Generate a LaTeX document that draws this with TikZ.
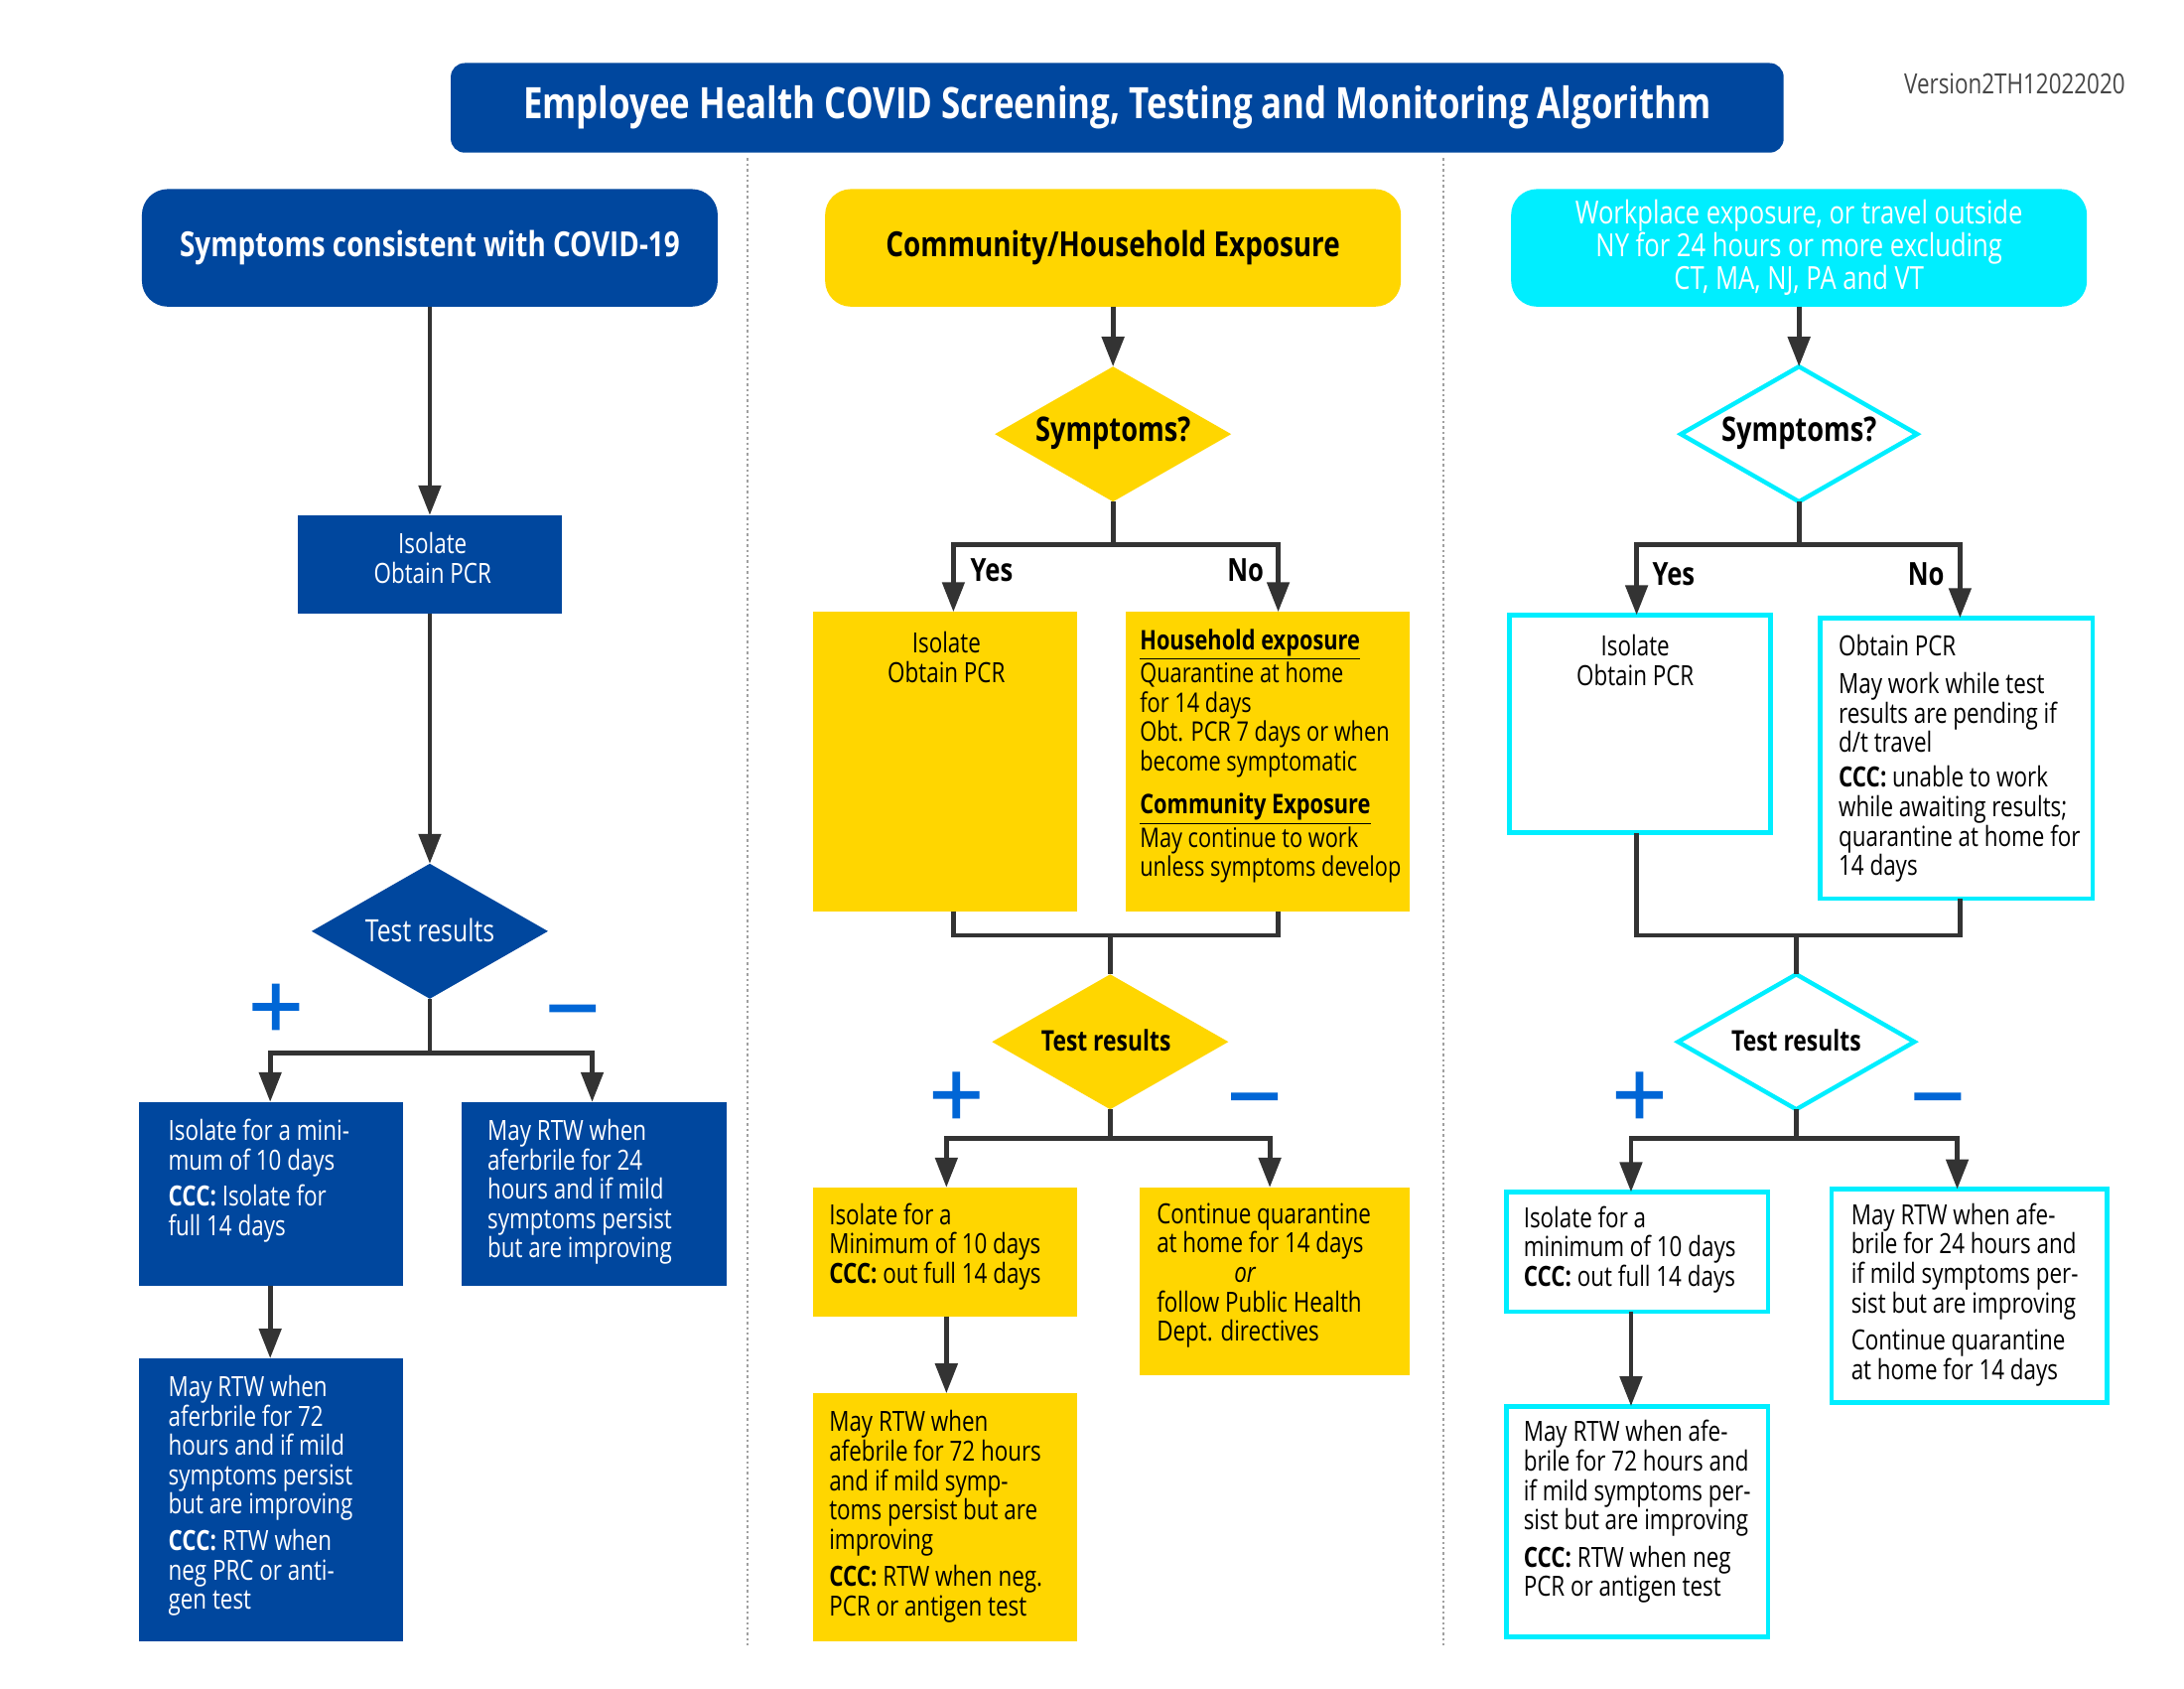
\documentclass[tikz,border=0pt]{standalone}
\usepackage{fontspec}
\setmainfont{Open Sans}[FakeStretch=0.8]
\newfontfamily\pmfont{DejaVu Sans}[FakeBold=2.5]
\usetikzlibrary{arrows.meta,shapes.geometric}
\definecolor{cblue}{RGB}{0,71,158}
\definecolor{cyel}{RGB}{255,214,0}
\definecolor{ccyan}{RGB}{0,238,255}
\definecolor{arrgray}{RGB}{51,51,51}
\definecolor{pmblue}{RGB}{0,102,214}
\definecolor{vgray}{RGB}{70,70,70}
\definecolor{dotgray}{RGB}{160,160,160}
\begin{document}
\begin{tikzpicture}[x=0.70513pt,y=-0.70513pt,
  box/.style={rectangle, inner sep=0pt, outer sep=0pt},
  bbox/.style={box, fill=cblue},
  ybox/.style={box, fill=cyel},
  cbox/.style={box, draw=ccyan, line width=2.4pt, fill=white},
  hdr/.style={box, rounded corners=13pt, minimum width=290pt, minimum height=59.2pt},
  dia/.style={diamond, inner sep=0pt, outer sep=0pt, minimum width=119pt, minimum height=68pt},
  body/.style={inner sep=0pt, anchor=north west, align=left, font=\fontsize{14}{14.8}\selectfont, execute at begin node=\strut},
  cbody/.style={body, anchor=north, align=center},
  hfont/.style={font=\fontsize{17.4}{20}\selectfont\bfseries},
  dfont/.style={inner sep=0pt, font=\fontsize{17}{20}\selectfont\bfseries},
  tfont/.style={inner sep=0pt, font=\fontsize{14.3}{18}\selectfont\bfseries},
  yn/.style={inner sep=0pt, font=\fontsize{16}{18}\selectfont\bfseries},
  pm/.style={inner sep=0pt, text=pmblue, font=\pmfont\fontsize{36}{36}\selectfont},
  line/.style={draw=arrgray, line width=2.4pt},
  arr/.style={line, -{Triangle[length=15pt,width=11pt]}},
  sep/.style={draw=dotgray, line width=1.3pt, dash pattern=on 1.2pt off 1.5pt}
]
\fill[white] (0,0) rectangle (1560,1205.45);
\useasboundingbox (0,0) rectangle (1560,1205.45);

% title and version
\node[box, fill=cblue, rounded corners=7pt, minimum width=671.3pt, minimum height=45.1pt,
      text=white, font=\fontsize{21.8}{24}\selectfont\bfseries] (title) at (798,77)
      {Employee Health COVID Screening, Testing and Monitoring Algorithm};
\node[inner sep=0pt, text=vgray, font=\fontsize{14}{16}\selectfont] (ver) at (1439,60) {Version2TH12022020};

% separators
\coordinate (s1t) at (534,113); \coordinate (s1b) at (534,1175);
\coordinate (s2t) at (1031,113); \coordinate (s2b) at (1031,1175);
\draw[sep] (s1t) -- (s1b);
\draw[sep] (s2t) -- (s2b);

% ---------------- column A (blue)
\node[hdr, fill=cblue, text=white, hfont] (A0) at (307,177) {Symptoms consistent with COVID-19};
\node[bbox, minimum width=132.6pt, minimum height=49.4pt] (Aiso) at (307,403) {};
\node[cbody, text=white] (Aisot) at (309,380) {Isolate\\Obtain PCR};
\node[dia, fill=cblue] (Ad) at (307,665) {};
\node[inner sep=0pt, text=white, font=\fontsize{15.5}{18}\selectfont] (Adt) at (307,664) {Test results};
\node[pm] (Aplus) at (197,719) {+};
\node[pm] (Aminus) at (409,727) {−};
\node[bbox, minimum width=133.3pt, minimum height=92.4pt] (A1) at (193.5,852.5) {};
\node[bbox, minimum width=133.3pt, minimum height=92.4pt] (A2) at (424.5,852.5) {};
\node[bbox, minimum width=133.3pt, minimum height=142.4pt] (A3) at (193.5,1071) {};
\node[body, text=white] (A1t) at (120,799) {Isolate for a mini-\\mum of 10 days\\[3.5pt]\textbf{CCC:} Isolate for\\full 14 days};
\node[body, text=white] (A2t) at (348,799) {May RTW when\\aferbrile for 24\\hours and if mild\\symptoms persist\\but are improving};
\node[body, text=white] (A3t) at (120,982) {May RTW when\\aferbrile for 72\\hours and if mild\\symptoms persist\\but are improving\\[3.5pt]\textbf{CCC:} RTW when\\neg PRC or anti-\\gen test};
\coordinate (ap) at (193,752); \coordinate (an) at (423,752);
\draw[arr] (A0) -- (Aiso);
\draw[arr] (Aiso) -- (Ad);
\draw[arr] (Ad.south) |- (ap) -- (A1.north -| ap);
\draw[arr] (Ad.south) |- (an) -- (A2.north -| an);
\draw[arr] (A1.south -| ap) -- (A3.north -| ap);

% ---------------- column B (yellow)
\node[hdr, fill=cyel, text=black, hfont] (B0) at (795,177) {Community/Household Exposure};
\node[dia, fill=cyel] (Bd1) at (795,310) {};
\node[dfont] (Bd1t) at (795,309) {Symptoms?};
\coordinate (byes) at (681,389); \coordinate (bno) at (913,389);
\node[yn, anchor=west] (Byes) at (693,407) {Yes};
\node[yn, anchor=east] (Bno) at (903,407) {No};
\node[ybox, minimum width=132.6pt, minimum height=150.9pt] (B1) at (675,544) {};
\node[ybox, minimum width=143.1pt, minimum height=150.9pt] (B2) at (905.5,544) {};
\node[cbody] (B1t) at (676,451) {Isolate\\Obtain PCR};
\node[body, font=\fontsize{13.6}{14.8}\selectfont] (B2t) at (814,449) {\underline{\textbf{Household exposure}}\\Quarantine at home\\for 14 days\\Obt. PCR 7 days or when\\become symptomatic\\[7pt]\underline{\textbf{Community Exposure}}\\May continue to work\\unless symptoms develop};
\coordinate (bm) at (793,668);
\node[dia, fill=cyel] (Bd2) at (793,744) {};
\node[tfont] (Bd2t) at (790,743) {Test results};
\node[pm] (Bplus) at (683,782) {+};
\node[pm] (Bminus) at (896,790) {−};
\coordinate (bp) at (676,813); \coordinate (bn) at (907,813);
\node[ybox, minimum width=132.6pt, minimum height=64.9pt] (B3) at (675,894) {};
\node[ybox, minimum width=136.1pt, minimum height=94.5pt] (B4) at (910.5,915) {};
\node[ybox, minimum width=132.6pt, minimum height=124.8pt] (B5) at (675,1083.5) {};
\node[body] (B3t) at (592,859) {Isolate for a\\Minimum of 10 days\\\textbf{CCC:} out full 14 days};
\node[body] (B4t) at (826,859) {Continue quarantine\\at home for 14 days\\\hspace*{39pt}\textit{or}\\follow Public Health\\Dept. directives};
\node[body] (B5t) at (592,1007) {May RTW when\\afebrile for 72 hours\\and if mild symp-\\toms persist but are\\improving\\[4pt]\textbf{CCC:} RTW when neg.\\PCR or antigen test};
\draw[arr] (B0) -- (Bd1);
\draw[arr] (Bd1.south) |- (byes) -- (B1.north -| byes);
\draw[arr] (Bd1.south) |- (bno) -- (B2.north -| bno);
\draw[line] (B1.south -| byes) |- (bm) -| (B2.south -| bno);
\draw[line] (bm) -- (Bd2.north);
\draw[arr] (Bd2.south) |- (bp) -- (B3.north -| bp);
\draw[arr] (Bd2.south) |- (bn) -- (B4.north -| bn);
\draw[arr] (B3.south -| bp) -- (B5.north -| bp);

% ---------------- column C (cyan)
\node[hdr, fill=ccyan, text=white, align=center, font=\fontsize{16}{16.6}\selectfont] (C0) at (1285,177)
  {Workplace exposure, or travel outside\\NY for 24 hours or more excluding\\CT, MA, NJ, PA and VT};
\node[dia, draw=ccyan, line width=2.2pt, fill=white] (Cd1) at (1285,310) {};
\node[dfont] (Cd1t) at (1285,309) {Symptoms?};
\coordinate (cyes) at (1169,389); \coordinate (cno) at (1400,389);
\node[yn, anchor=west] (Cyes) at (1180,410) {Yes};
\node[yn, anchor=east] (Cno) at (1389,410) {No};
\node[cbox, minimum width=131.6pt, minimum height=109.7pt] (C1) at (1171.5,517) {};
\node[cbox, minimum width=137.2pt, minimum height=141.4pt] (C2) at (1397.5,541.5) {};
\node[cbody] (C1t) at (1168,453) {Isolate\\Obtain PCR};
\node[body] (C2t) at (1313,453) {Obtain PCR\\[4.2pt]May work while test\\results are pending if\\d/t travel\\[2.8pt]\textbf{CCC:} unable to work\\while awaiting results;\\quarantine at home for\\14 days};
\coordinate (cm) at (1283,668);
\node[dia, draw=ccyan, line width=2.2pt, fill=white] (Cd2) at (1283,744) {};
\node[tfont] (Cd2t) at (1283,743) {Test results};
\node[pm] (Cplus) at (1171,782) {+};
\node[pm] (Cminus) at (1384,790) {−};
\coordinate (cp) at (1165,813); \coordinate (cn) at (1398,813);
\node[cbox, minimum width=131.6pt, minimum height=60.3pt] (C3) at (1169.5,894) {};
\node[cbox, minimum width=138.6pt, minimum height=107.6pt] (C4) at (1406.5,925.5) {};
\node[cbox, minimum width=131.6pt, minimum height=116.1pt] (C5) at (1169.5,1086.5) {};
\node[body] (C3t) at (1088,861) {Isolate for a\\minimum of 10 days\\\textbf{CCC:} out full 14 days};
\node[body] (C4t) at (1322,859) {May RTW when afe-\\brile for 24 hours and\\if mild symptoms per-\\sist but are improving\\[4pt]Continue quarantine\\at home for 14 days};
\node[body] (C5t) at (1088,1014) {May RTW when afe-\\brile for 72 hours and\\if mild symptoms per-\\sist but are improving\\[4pt]\textbf{CCC:} RTW when neg\\PCR or antigen test};
\draw[arr] (C0) -- (Cd1);
\draw[arr] (Cd1.south) |- (cyes) -- (C1.north -| cyes);
\draw[arr] (Cd1.south) |- (cno) -- (C2.north -| cno);
\draw[line] (C1.south -| cyes) |- (cm) -| (C2.south -| cno);
\draw[line] (cm) -- (Cd2.north);
\draw[arr] (Cd2.south) |- (cp) -- (C3.north -| cp);
\draw[arr] (Cd2.south) |- (cn) -- (C4.north -| cn);
\draw[arr] (C3.south -| cp) -- (C5.north -| cp);
\end{tikzpicture}
\end{document}
